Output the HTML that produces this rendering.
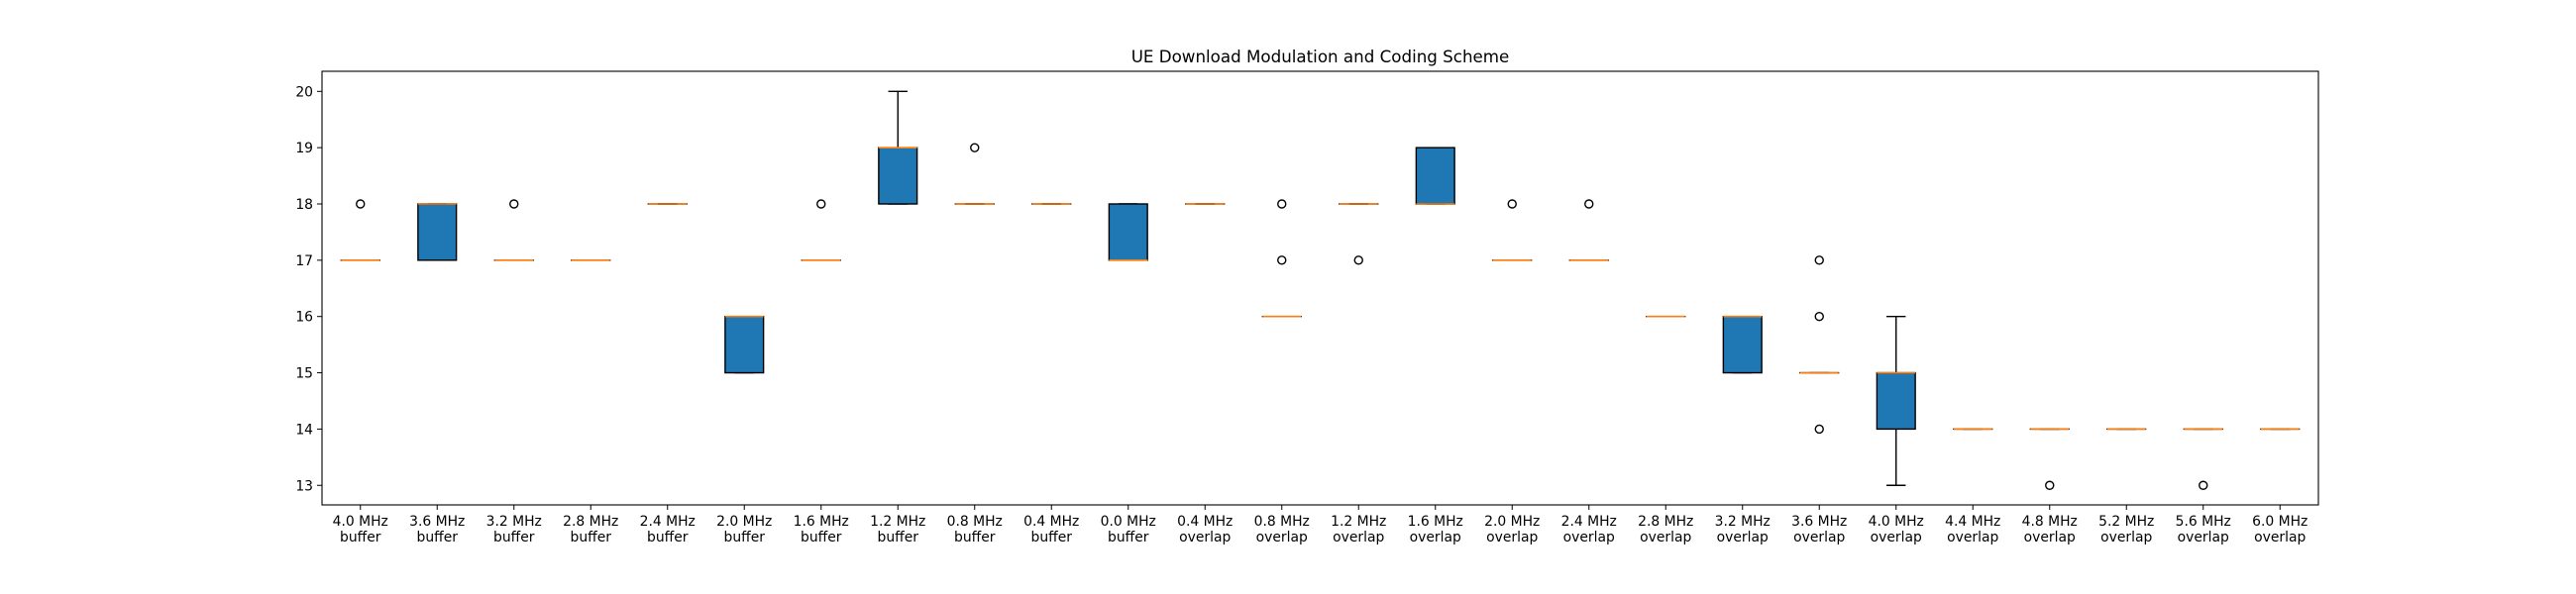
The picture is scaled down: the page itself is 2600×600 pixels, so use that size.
<!DOCTYPE html>
<html><head><meta charset="utf-8"><style>
html,body{margin:0;padding:0;background:#fff;}
svg{display:block;font-family:"DejaVu Sans","Liberation Sans",sans-serif;}
</style></head><body>
<svg id="chart" width="2600" height="600" viewBox="0 0 2600 600">
<rect width="2600" height="600" fill="#fff"/>
<text x="1332.5" y="63" text-anchor="middle" font-size="16.7" fill="#000">UE Download Modulation and Coding Scheme</text>
<g id="marks"></g>
<rect x="325" y="72" width="2015" height="438" fill="none" stroke="#000" stroke-width="1.1"/>
</svg>
<script>
const categories = ["4.0 MHz|buffer","3.6 MHz|buffer","3.2 MHz|buffer","2.8 MHz|buffer","2.4 MHz|buffer","2.0 MHz|buffer","1.6 MHz|buffer","1.2 MHz|buffer","0.8 MHz|buffer","0.4 MHz|buffer","0.0 MHz|buffer","0.4 MHz|overlap","0.8 MHz|overlap","1.2 MHz|overlap","1.6 MHz|overlap","2.0 MHz|overlap","2.4 MHz|overlap","2.8 MHz|overlap","3.2 MHz|overlap","3.6 MHz|overlap","4.0 MHz|overlap","4.4 MHz|overlap","4.8 MHz|overlap","5.2 MHz|overlap","5.6 MHz|overlap","6.0 MHz|overlap"];
const q1 =      [17,17,17,17,18,15,17,18,18,18,17,18,16,18,18,17,17,16,15,15,14,14,14,14,14,14];
const medians = [17,18,17,17,18,16,17,19,18,18,17,18,16,18,18,17,17,16,16,15,15,14,14,14,14,14];
const q3 =      [17,18,17,17,18,16,17,19,18,18,18,18,16,18,19,17,17,16,16,15,15,14,14,14,14,14];
const whiskerLow =  [17,17,17,17,18,15,17,18,18,18,17,18,16,18,18,17,17,16,15,15,13,14,14,14,14,14];
const whiskerHigh = [17,18,17,17,18,16,17,20,18,18,18,18,16,18,19,17,17,16,16,15,16,14,14,14,14,14];
const fliers = [[18],[],[18],[],[],[],[18],[],[19],[],[],[],[17,18],[17],[],[18],[18],[],[],[14,16,17],[],[],[13],[],[13],[]];
const yTicks = [13,14,15,16,17,18,19,20];

const L=325,R=2340,T=72,B=510;
const step=(R-L)/categories.length;
const xs=i=>L+step*(i+0.5);
const ys=v=>92.3+(20-v)*56.85;
const NS="http://www.w3.org/2000/svg";
const g=document.getElementById('marks');
function mk(tag,attrs,parent){const e=document.createElementNS(NS,tag);for(const k in attrs)e.setAttribute(k,attrs[k]);(parent||g).appendChild(e);return e;}

yTicks.forEach(v=>{
  const y=ys(v);
  const t=mk('line',{x1:L-5,x2:L,y1:y,y2:y,stroke:'#000','stroke-width':1});
  
  
  const lb=mk('text',{x:L-9,y:y+5,'text-anchor':'end','font-size':13.9,fill:'#000'});
  lb.textContent=v;
  
  
});

const bw=step*0.5, cw=bw*0.5;
categories.forEach((c,i)=>{
  const x=xs(i);
  const grp=mk('g',{});
  
  
  // whiskers
  const wl=mk('line',{x1:x,x2:x,y1:ys(q1[i]),y2:ys(whiskerLow[i]),stroke:'#000','stroke-width':1.4},grp);
  
  
  const wh=mk('line',{x1:x,x2:x,y1:ys(q3[i]),y2:ys(whiskerHigh[i]),stroke:'#000','stroke-width':1.4},grp);
  
  
  const c1=mk('line',{x1:x-cw/2,x2:x+cw/2,y1:ys(whiskerLow[i]),y2:ys(whiskerLow[i]),stroke:'#000','stroke-width':1.4},grp);
  
  
  const c2=mk('line',{x1:x-cw/2,x2:x+cw/2,y1:ys(whiskerHigh[i]),y2:ys(whiskerHigh[i]),stroke:'#000','stroke-width':1.4},grp);
  
  
  // box
  const yt=ys(q3[i]),yb=ys(q1[i]);
  const bx=mk('rect',{x:x-bw/2,y:yt,width:bw,height:Math.max(yb-yt,0.01),fill:'#1f77b4',stroke:'#000','stroke-width':1.4},grp);
  
  
  const md=mk('line',{x1:x-bw/2,x2:x+bw/2,y1:ys(medians[i]),y2:ys(medians[i]),stroke:'#ff7f0e','stroke-width':1.6},grp);
  
  
  fliers[i].forEach(v=>{
    const f=mk('circle',{cx:x,cy:ys(v),r:4,fill:'none',stroke:'#000','stroke-width':1.4},grp);
    
    
  });
  // x tick
  const tk=mk('line',{x1:x,x2:x,y1:B,y2:B+5,stroke:'#000','stroke-width':1});
  
  
  const parts=c.split('|');
  const tl=mk('text',{x:x,'text-anchor':'middle','font-size':13.9,fill:'#000'});
  
  
  parts.forEach((p,j)=>{const s=mk('tspan',{x:x,y:531+j*16},tl);s.textContent=p;});
});
</script>
</body></html>
